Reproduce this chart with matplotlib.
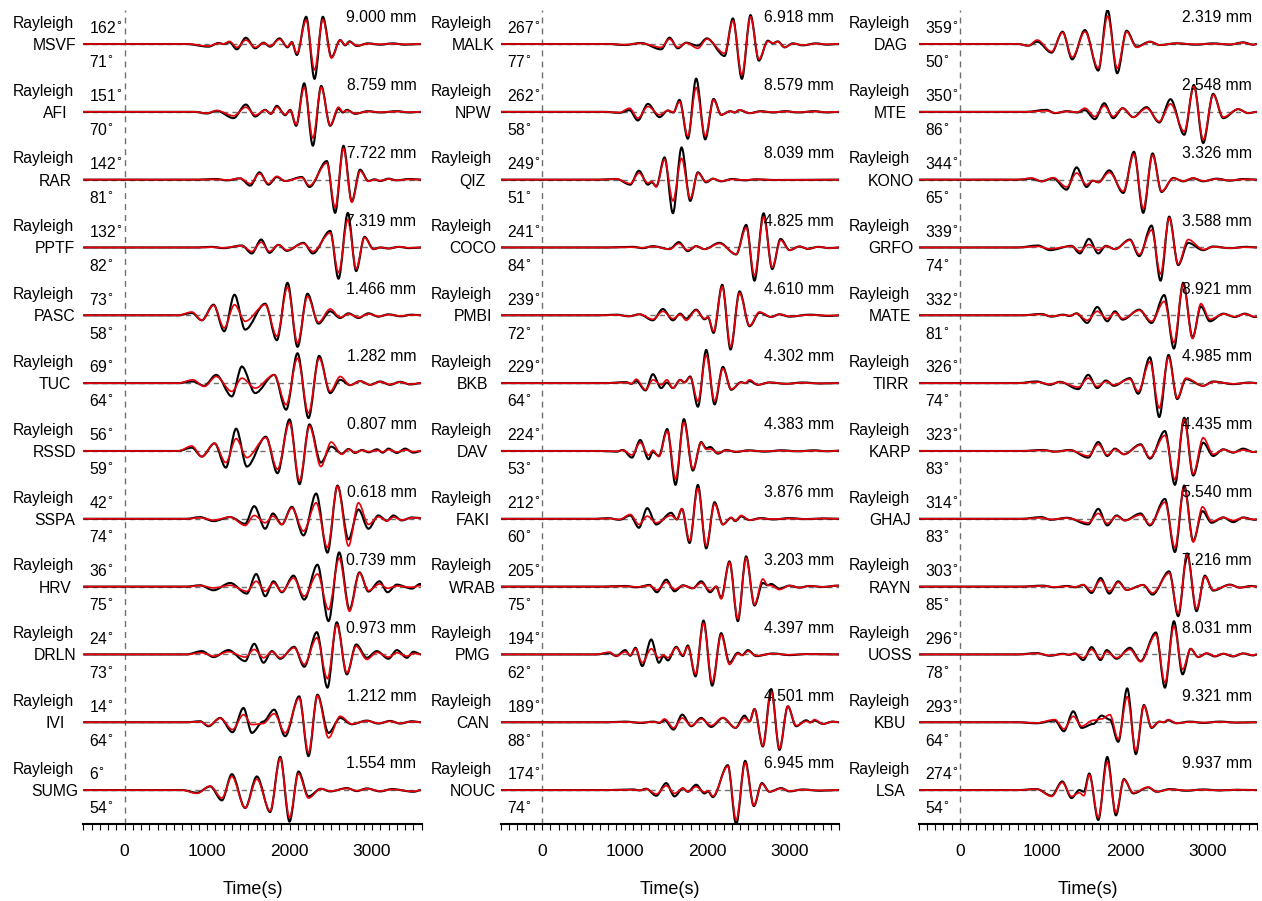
import matplotlib
matplotlib.use("Agg")
import matplotlib.pyplot as plt
from matplotlib.path import Path
from matplotlib.patches import PathPatch
import matplotlib.transforms as mtransforms
from matplotlib.ticker import MultipleLocator

# ---------------- data: (time s, observed, synthetic) extrema, normalised ----------------
MSVF = [(-500,0,0),(750,0,0),(1018,-0.08,-0.06),(1139,0.03,0.02),(1200,0.0,0.0),(1273,0.05,0.08),(1361,-0.16,-0.10),(1471,0.19,0.12),(1584,-0.13,-0.10),(1685,0.04,0.03),(1765,-0.08,-0.06),(1879,0.17,0.14),(1976,-0.10,-0.08),(2028,0.06,0.05),(2089,-0.33,-0.28),(2202,0.82,0.72),(2303,-1.05,-0.78),(2404,0.82,0.74),(2509,-0.40,-0.42),(2614,0.12,0.12),(2674,-0.04,-0.03),(2727,0.08,0.06),(2816,-0.06,-0.05),(2950,0.02,0.01),(3100,-0.02,-0.01),(3250,0.02,0.01),(3400,-0.02,-0.01),(3600,0,0)]
AFI = [(-500,0,0),(850,0,0),(998,-0.05,-0.04),(1119,0.03,0.04),(1321,-0.19,-0.12),(1471,0.22,0.14),(1584,-0.14,-0.10),(1705,0.06,0.05),(1774,-0.06,-0.05),(1846,0.18,0.14),(1947,-0.10,-0.08),(2008,0.06,0.05),(2081,-0.42,-0.38),(2178,0.86,0.74),(2283,-1.02,-0.79),(2384,0.78,0.74),(2493,-0.42,-0.40),(2594,0.10,0.14),(2646,-0.02,0.0),(2695,0.06,0.04),(2796,-0.06,-0.05),(2950,0.02,0.01),(3100,-0.02,-0.01),(3300,0.02,0.01),(3450,-0.02,-0.01),(3600,0,0)]
RAR = [(-500,0,0),(900,0,0),(1100,0.02,0.01),(1250,-0.02,-0.01),(1402,0.04,0.04),(1523,-0.18,-0.12),(1636,0.22,0.18),(1745,-0.15,-0.12),(1846,0.08,0.10),(1947,-0.04,-0.04),(2149,0.08,0.06),(2242,-0.22,-0.18),(2452,0.56,0.50),(2553,-1.0,-0.84),(2654,1.02,0.94),(2755,-0.65,-0.68),(2856,0.30,0.26),(2957,-0.04,-0.05),(3030,0.01,0.0),(3099,-0.04,-0.03),(3200,0.03,0.02),(3300,-0.02,-0.02),(3450,0.02,0.01),(3600,0,0)]
PPTF = [(-500,0,0),(900,0,0),(1050,0.02,0.01),(1200,-0.02,-0.01),(1422,0.06,0.05),(1543,-0.18,-0.12),(1656,0.24,0.16),(1757,-0.16,-0.12),(1866,0.08,0.08),(1967,-0.10,-0.08),(2169,0.14,0.12),(2283,-0.18,-0.12),(2493,0.50,0.44),(2594,-0.94,-0.76),(2707,1.04,0.84),(2808,-0.71,-0.64),(2909,0.32,0.30),(3018,-0.05,-0.05),(3100,0.0,0.0),(3200,-0.03,-0.03),(3330,0.02,0.02),(3450,-0.02,-0.01),(3600,0,0)]
PASC = [(-500,0,0),(650,0,0),(816,0.07,0.10),(937,-0.15,-0.15),(1079,0.32,0.30),(1208,-0.48,-0.38),(1333,0.62,0.32),(1462,-0.43,-0.18),(1705,0.35,0.32),(1846,-0.75,-0.63),(1976,0.98,0.85),(2097,-0.95,-0.83),(2218,0.65,0.57),(2351,-0.25,-0.21),(2493,0.12,0.19),(2614,-0.08,-0.06),(2715,0.06,0.04),(2836,-0.08,-0.06),(2957,0.06,0.04),(3078,-0.04,-0.03),(3200,0.03,0.02),(3350,-0.03,-0.02),(3480,0.02,0.01),(3600,0,0)]
TUC = [(-500,0,0),(650,0,0),(828,0.05,0.10),(966,-0.08,-0.10),(1111,0.25,0.20),(1301,-0.40,-0.25),(1422,0.50,0.15),(1584,-0.30,-0.15),(1814,0.25,0.25),(1959,-0.80,-0.65),(2097,0.90,0.75),(2230,-1.05,-0.90),(2359,0.82,0.75),(2493,-0.30,-0.25),(2614,0.10,0.20),(2735,-0.06,-0.06),(2856,0.06,0.06),(2977,-0.05,-0.05),(3099,0.05,0.04),(3220,-0.05,-0.04),(3341,0.04,0.03),(3462,-0.04,-0.03),(3600,0,0)]
RSSD = [(-500,0,0),(650,0,0),(816,0.10,0.15),(937,-0.17,-0.17),(1091,0.23,0.23),(1228,-0.50,-0.35),(1353,0.67,0.37),(1483,-0.47,-0.20),(1713,0.43,0.40),(1854,-0.67,-0.55),(2000,0.95,0.85),(2121,-1.0,-0.90),(2242,0.80,0.75),(2380,-0.35,-0.47),(2505,0.13,0.27),(2634,-0.08,-0.10),(2715,0.06,0.05),(2796,-0.06,-0.05),(2880,0.03,0.02),(2960,-0.04,-0.02),(3060,0.05,0.02),(3130,-0.05,-0.03),(3200,0.07,0.04),(3301,-0.06,-0.03),(3402,0.07,0.03),(3503,-0.05,-0.02),(3600,0,0)]
SSPA = [(-500,0,0),(750,0,0),(917,0.05,0.03),(1079,-0.07,-0.04),(1281,0.05,0.05),(1462,-0.15,-0.20),(1572,0.38,0.10),(1705,-0.30,-0.12),(1798,0.16,0.08),(1907,-0.17,-0.17),(2028,0.36,0.33),(2169,-0.50,-0.37),(2323,0.76,0.48),(2460,-1.02,-0.87),(2582,1.0,0.98),(2715,-0.62,-0.82),(2836,0.28,0.48),(2957,-0.30,-0.17),(3078,0.10,0.06),(3180,-0.06,-0.06),(3260,0.10,0.05),(3361,-0.05,-0.04),(3483,0.04,0.03),(3600,0.02,0.02)]
HRV = [(-500,0,0),(750,0,0),(917,0.04,0.03),(1079,-0.11,-0.04),(1281,0.11,0.04),(1483,-0.21,-0.14),(1596,0.38,0.16),(1705,-0.29,-0.14),(1806,0.16,0.11),(1907,-0.17,-0.15),(2048,0.33,0.26),(2178,-0.39,-0.29),(2339,0.66,0.38),(2473,-1.04,-0.69),(2602,1.03,0.86),(2727,-0.69,-0.74),(2848,0.43,0.41),(2957,-0.15,-0.12),(3091,0.16,0.08),(3188,-0.17,-0.05),(3301,0.06,0.02),(3483,-0.06,-0.02),(3584,0.08,0.03),(3600,0.08,0.03)]
DRLN = [(-500,0,0),(750,0,0),(937,0.10,0.05),(1079,-0.08,-0.05),(1260,0.13,0.08),(1462,-0.20,-0.08),(1572,0.32,0.15),(1685,-0.25,-0.10),(1786,0.10,0.08),(1887,-0.13,-0.10),(2056,0.23,0.20),(2178,-0.37,-0.30),(2331,0.67,0.50),(2460,-1.0,-0.73),(2573,0.97,0.90),(2695,-0.60,-0.55),(2808,0.30,0.25),(2937,-0.10,-0.15),(3058,0.10,0.06),(3200,-0.13,-0.08),(3301,0.13,0.05),(3422,-0.10,-0.05),(3503,0.08,0.03),(3600,0,0)]
IVI = [(-500,0,0),(750,0,0),(917,0.03,0.02),(1018,-0.12,-0.10),(1159,0.13,0.12),(1309,-0.30,-0.22),(1442,0.43,0.23),(1543,-0.32,-0.07),(1680,0.02,-0.04),(1814,0.38,0.26),(1947,-0.42,-0.32),(2117,0.78,0.73),(2230,-1.02,-0.92),(2339,0.83,0.80),(2473,-0.32,-0.47),(2614,0.13,0.18),(2755,-0.06,-0.05),(2937,0.05,0.04),(3078,-0.04,-0.03),(3220,0.04,0.03),(3341,-0.04,-0.03),(3483,0.03,0.02),(3600,0,0)]
SUMG = [(-500,0,0),(700,0,0),(877,-0.08,-0.10),(1038,0.11,0.12),(1180,-0.31,-0.24),(1301,0.48,0.41),(1462,-0.54,-0.54),(1604,0.41,0.33),(1765,-0.66,-0.63),(1887,1.0,0.96),(2000,-0.95,-0.83),(2109,0.56,0.50),(2230,-0.19,-0.24),(2380,0.04,0.04),(2493,-0.04,-0.03),(2695,0.06,0.05),(2816,-0.03,-0.02),(2937,0.05,0.04),(3099,-0.04,-0.03),(3240,0.03,0.02),(3503,-0.05,-0.04),(3600,0,0)]

MALK = [(-500,0,0),(800,0,0),(1000,-0.03,-0.02),(1200,0.03,0.02),(1442,-0.16,-0.10),(1543,0.19,0.15),(1644,-0.13,-0.10),(1745,0.04,0.03),(1887,-0.05,-0.13),(1996,0.17,0.15),(2210,-0.36,-0.28),(2311,0.77,0.70),(2420,-1.05,-0.93),(2525,0.87,0.82),(2626,-0.50,-0.46),(2735,0.10,0.08),(2796,0.02,0.03),(2856,0.08,0.07),(2937,-0.10,-0.10),(3038,0.02,0.01),(3159,-0.04,-0.03),(3321,0.02,0.01),(3450,-0.02,-0.01),(3600,0,0)]
NPW = [(-500,0,0),(750,0,0),(937,-0.03,-0.02),(1058,0.05,0.11),(1159,-0.26,-0.19),(1281,0.24,0.16),(1422,-0.16,-0.09),(1523,0.04,0.04),(1590,-0.02,-0.01),(1664,0.36,0.31),(1765,-0.81,-0.73),(1866,1.0,0.73),(1976,-0.83,-0.73),(2077,0.39,0.36),(2169,-0.09,-0.09),(2280,0.02,0.02),(2330,-0.02,-0.02),(2392,0.05,0.06),(2513,-0.04,-0.04),(2650,0.02,0.01),(2800,-0.02,-0.01),(2950,0.02,0.01),(3100,-0.02,-0.01),(3300,0.02,0.01),(3450,-0.02,-0.01),(3600,0,0)]
QIZ = [(-500,0,0),(700,0,0),(900,0.02,0.02),(1067,-0.15,-0.12),(1172,0.27,0.20),(1281,-0.15,-0.10),(1329,-0.08,-0.05),(1382,-0.20,-0.22),(1483,0.67,0.61),(1584,-1.01,-0.64),(1689,0.97,0.64),(1794,-0.64,-0.57),(1887,0.22,0.20),(1988,-0.08,-0.06),(2068,0.03,0.03),(2169,-0.05,-0.04),(2300,0.02,0.01),(2450,-0.02,-0.01),(2600,0.01,0.01),(2800,-0.01,-0.01),(3600,0,0)]
COCO = [(-500,0,0),(800,0,0),(1100,0.02,0.01),(1220,-0.02,-0.01),(1341,0.04,0.03),(1543,-0.05,-0.05),(1656,0.16,0.12),(1765,-0.11,-0.08),(1866,0.04,0.04),(1967,-0.05,-0.05),(2149,0.14,0.12),(2351,-0.21,-0.20),(2473,0.68,0.60),(2573,-1.0,-0.85),(2683,1.03,0.92),(2788,-0.65,-0.60),(2889,0.26,0.22),(2998,-0.08,-0.08),(3119,0.03,0.03),(3220,-0.04,-0.04),(3350,0.02,0.02),(3480,-0.02,-0.02),(3600,0,0)]
PMBI = [(-500,0,0),(700,0,0),(900,0.02,0.01),(1050,-0.03,-0.03),(1180,0.03,0.03),(1341,-0.15,-0.12),(1462,0.19,0.12),(1584,-0.15,-0.10),(1673,0.05,0.03),(1745,-0.10,-0.15),(1866,0.17,0.15),(1967,-0.12,-0.10),(2010,-0.06,-0.05),(2077,-0.53,-0.48),(2182,0.92,0.87),(2283,-1.03,-0.95),(2392,0.72,0.67),(2513,-0.33,-0.31),(2634,0.08,0.10),(2775,-0.05,-0.05),(2876,0.03,0.03),(2998,-0.04,-0.03),(3240,0.02,0.01),(3483,-0.02,-0.01),(3600,0,0)]
BKB = [(-500,0,0),(750,0,0),(1018,0.03,0.02),(1080,-0.02,-0.02),(1139,0.06,0.12),(1252,-0.22,-0.20),(1341,0.27,0.10),(1442,-0.15,-0.05),(1511,0.02,0.10),(1584,-0.15,-0.15),(1673,0.10,0.10),(1725,0.02,0.02),(1794,0.20,0.18),(1887,-0.71,-0.54),(1988,1.0,0.84),(2089,-0.64,-0.54),(2190,0.49,0.44),(2291,-0.20,-0.18),(2412,0.03,0.02),(2460,0.0,0.0),(2513,0.06,0.10),(2614,-0.05,-0.05),(2755,0.02,0.02),(2957,-0.02,-0.02),(3159,0.02,0.01),(3361,-0.01,-0.01),(3600,0,0)]
DAV = [(-500,0,0),(700,0,0),(900,-0.02,-0.01),(978,0.03,0.02),(1087,-0.20,-0.12),(1188,0.33,0.25),(1289,-0.25,-0.13),(1341,-0.03,0.02),(1414,-0.15,-0.17),(1515,0.66,0.60),(1616,-1.02,-0.84),(1717,0.96,0.86),(1826,-0.59,-0.54),(1927,0.27,0.25),(1988,0.08,0.05),(2036,0.12,0.06),(2129,-0.08,-0.06),(2230,0.03,0.02),(2350,-0.03,-0.02),(2500,0.02,0.01),(2700,-0.02,-0.01),(2900,0.02,0.01),(3100,-0.01,-0.01),(3300,0.02,0.01),(3450,-0.01,-0.01),(3600,0.01,0.01)]
FAKI = [(-500,0,0),(650,0,0),(800,0.02,0.01),(937,-0.03,-0.02),(1067,0.10,0.13),(1172,-0.27,-0.17),(1273,0.32,0.08),(1382,-0.17,-0.12),(1563,0.18,0.10),(1632,-0.02,-0.02),(1693,0.30,0.30),(1786,-0.73,-0.66),(1887,1.02,0.92),(1988,-0.89,-0.81),(2089,0.50,0.45),(2190,-0.17,-0.17),(2291,0.03,0.04),(2339,-0.07,-0.06),(2412,0.07,0.10),(2513,-0.04,-0.04),(2650,0.02,0.01),(2800,-0.02,-0.01),(3000,0.02,0.01),(3200,-0.01,-0.01),(3400,0.01,0.01),(3600,0,0)]
WRAB = [(-500,0,0),(750,0,0),(1000,0.02,0.01),(1150,-0.02,-0.01),(1301,0.05,0.03),(1390,-0.17,-0.10),(1503,0.21,0.13),(1604,-0.14,-0.08),(1705,0.04,0.03),(1826,-0.05,-0.05),(1927,0.16,0.11),(2036,-0.17,-0.12),(2109,0.0,0.01),(2169,-0.34,-0.37),(2270,0.76,0.73),(2371,-1.04,-0.97),(2472,0.91,0.86),(2573,-0.57,-0.54),(2674,0.11,0.23),(2735,0.04,0.04),(2775,0.08,0.03),(2876,-0.06,-0.09),(2998,0.03,0.03),(3119,-0.03,-0.03),(3240,0.02,0.02),(3400,-0.01,-0.01),(3583,0.03,0.03),(3600,0.03,0.03)]
PMG = [(-500,0,0),(650,0,0),(816,0.04,0.07),(897,-0.05,-0.05),(1006,0.13,0.08),(1067,-0.04,-0.02),(1131,0.20,0.17),(1212,-0.35,-0.25),(1321,0.45,0.17),(1414,-0.25,-0.10),(1471,-0.05,-0.02),(1523,-0.18,-0.10),(1624,0.23,0.20),(1705,-0.05,-0.02),(1765,0.27,0.23),(1858,-0.66,-0.59),(1955,1.02,0.94),(2060,-0.94,-0.84),(2169,0.64,0.59),(2270,-0.25,-0.30),(2371,0.05,0.03),(2424,-0.02,-0.03),(2493,0.13,0.10),(2594,-0.05,-0.04),(2796,0.03,0.02),(2998,-0.02,-0.01),(3200,0.01,0.01),(3600,0,0)]
CAN = [(-500,0,0),(800,0,0),(1000,0.02,0.01),(1200,-0.02,-0.01),(1350,0.02,0.01),(1420,-0.02,-0.01),(1483,0.06,0.10),(1592,-0.22,-0.17),(1697,0.23,0.13),(1806,-0.12,-0.10),(1927,0.13,0.10),(2048,-0.14,-0.10),(2190,0.13,0.14),(2343,-0.17,-0.17),(2452,0.20,0.13),(2513,0.02,0.02),(2573,0.40,0.40),(2674,-0.73,-0.71),(2776,1.0,0.92),(2876,-0.83,-0.79),(2977,0.48,0.48),(3078,-0.12,-0.10),(3200,0.06,0.03),(3250,0.0,-0.01),(3301,0.05,0.08),(3402,-0.05,-0.05),(3523,0.02,0.02),(3600,0,0)]
NOUC = [(-500,0,0),(800,0,0),(1100,0.02,0.01),(1180,-0.01,-0.01),(1260,0.04,0.03),(1382,-0.17,-0.12),(1503,0.21,0.13),(1604,-0.19,-0.10),(1705,0.05,0.06),(1765,-0.05,-0.05),(1866,0.16,0.10),(1967,-0.10,-0.06),(2010,-0.04,-0.02),(2068,-0.21,-0.18),(2250,0.75,0.72),(2351,-1.03,-0.90),(2460,0.88,0.82),(2565,-0.48,-0.46),(2662,0.21,0.19),(2755,-0.05,-0.05),(2897,0.06,0.05),(2998,-0.04,-0.03),(3159,0.02,0.01),(3361,-0.02,-0.01),(3600,0,0)]

DAG = [(-500,0,0),(700,0,0),(828,-0.05,-0.05),(937,0.07,0.12),(1111,-0.26,-0.23),(1244,0.37,0.35),(1361,-0.46,-0.40),(1515,0.42,0.37),(1677,-0.80,-0.73),(1790,1.02,0.84),(1907,-0.88,-0.73),(2020,0.40,0.37),(2141,-0.08,-0.10),(2303,0.07,0.07),(2424,-0.03,-0.03),(2626,0.02,0.02),(2868,-0.02,-0.01),(3070,0.02,0.01),(3272,-0.02,-0.01),(3434,0.05,0.04),(3555,-0.02,-0.02),(3600,0,0)]
MTE = [(-500,0,0),(800,0,0),(1050,0.06,0.03),(1151,-0.04,-0.03),(1300,0.02,0.01),(1420,-0.02,-0.01),(1515,0.05,0.11),(1636,-0.22,-0.14),(1749,0.26,0.18),(1858,-0.19,-0.14),(1972,0.11,0.11),(2101,-0.16,-0.16),(2262,0.14,0.11),(2416,-0.32,-0.29),(2553,0.38,0.24),(2719,-0.69,-0.59),(2836,0.81,0.76),(2949,-0.94,-0.84),(3070,0.54,0.51),(3192,-0.19,-0.16),(3373,0.08,0.08),(3495,-0.04,-0.04),(3600,0,0)]
KONO = [(-500,0,0),(700,0,0),(869,0.03,0.05),(990,-0.05,-0.05),(1131,0.04,0.06),(1293,-0.30,-0.22),(1414,0.37,0.20),(1535,-0.22,-0.15),(1610,-0.03,-0.03),(1680,-0.08,-0.08),(1810,0.28,0.22),(1980,-0.40,-0.35),(2109,0.84,0.77),(2222,-1.0,-0.87),(2335,0.79,0.74),(2444,-0.37,-0.35),(2586,0.05,0.04),(2707,-0.05,-0.04),(2828,0.04,0.05),(2949,-0.05,-0.04),(3111,0.03,0.02),(3272,-0.03,-0.02),(3434,0.02,0.01),(3600,0,0)]
GRFO = [(-500,0,0),(700,0,0),(949,0.06,0.03),(1091,-0.08,-0.04),(1353,0.05,0.04),(1454,-0.18,-0.11),(1563,0.26,0.09),(1677,-0.18,-0.08),(1770,0.05,0.04),(1879,-0.05,-0.05),(2060,0.24,0.22),(2174,-0.26,-0.21),(2323,0.66,0.53),(2432,-1.0,-0.80),(2537,0.93,0.89),(2646,-0.53,-0.50),(2767,0.14,0.24),(2949,-0.08,-0.06),(3070,0.03,0.02),(3272,-0.02,-0.02),(3474,0.02,0.01),(3600,0,0)]
MATE = [(-500,0,0),(750,0,0),(990,0.04,0.03),(1111,-0.04,-0.03),(1250,0.02,0.01),(1330,-0.02,-0.01),(1414,0.06,0.05),(1543,-0.23,-0.15),(1664,0.25,0.12),(1786,-0.18,-0.10),(1879,0.12,0.08),(1972,-0.13,-0.10),(2174,0.17,0.15),(2323,-0.23,-0.18),(2477,0.61,0.42),(2594,-1.0,-0.82),(2707,0.98,0.94),(2820,-0.67,-0.70),(2921,0.27,0.35),(3030,-0.18,-0.12),(3192,0.05,0.04),(3333,-0.05,-0.04),(3454,0.05,0.04),(3575,-0.05,-0.04),(3600,-0.05,-0.04)]
TIRR = [(-500,0,0),(700,0,0),(929,0.05,0.03),(1091,-0.05,-0.03),(1212,0.04,0.03),(1434,-0.18,-0.12),(1555,0.25,0.15),(1664,-0.15,-0.10),(1770,0.08,0.05),(1866,-0.08,-0.05),(2060,0.15,0.12),(2161,-0.32,-0.25),(2303,0.78,0.65),(2416,-1.02,-0.75),(2529,0.85,0.78),(2634,-0.48,-0.45),(2739,0.12,0.15),(2949,-0.08,-0.08),(3070,0.05,0.04),(3313,-0.03,-0.02),(3515,0.02,0.01),(3600,0,0)]
KARP = [(-500,0,0),(750,0,0),(1010,0.03,0.02),(1150,-0.02,-0.02),(1333,0.03,0.02),(1555,-0.20,-0.15),(1677,0.27,0.20),(1786,-0.15,-0.12),(1879,0.07,0.05),(1988,-0.10,-0.10),(2190,0.20,0.18),(2303,-0.23,-0.20),(2485,0.60,0.47),(2606,-1.02,-0.86),(2719,1.0,0.95),(2828,-0.74,-0.69),(2949,0.25,0.40),(3070,-0.15,-0.10),(3192,0.05,0.04),(3313,-0.05,-0.04),(3434,0.07,0.03),(3555,-0.03,-0.03),(3600,-0.02,-0.02)]
GHAJ = [(-500,0,0),(750,0,0),(990,0.05,0.03),(1100,-0.03,-0.02),(1300,0.03,0.02),(1555,-0.17,-0.12),(1677,0.30,0.16),(1786,-0.20,-0.14),(1899,0.10,0.08),(2000,-0.05,-0.05),(2190,0.16,0.12),(2303,-0.20,-0.17),(2485,0.60,0.50),(2606,-1.0,-0.87),(2719,1.0,0.95),(2828,-0.67,-0.70),(2941,0.23,0.36),(3050,-0.12,-0.08),(3192,0.04,0.04),(3313,-0.10,-0.05),(3434,0.04,0.03),(3575,-0.03,-0.02),(3600,-0.02,-0.01)]
RAYN = [(-500,0,0),(750,0,0),(1000,0.03,0.02),(1150,-0.02,-0.01),(1300,0.02,0.01),(1400,-0.02,-0.01),(1495,0.05,0.06),(1596,-0.19,-0.14),(1705,0.26,0.19),(1810,-0.21,-0.14),(1919,0.16,0.13),(2020,-0.10,-0.10),(2222,0.05,0.05),(2335,-0.24,-0.19),(2537,0.46,0.41),(2646,-0.89,-0.81),(2755,1.0,0.96),(2868,-0.74,-0.67),(2969,0.33,0.30),(3070,-0.12,-0.10),(3272,0.06,0.05),(3394,-0.03,-0.03),(3535,0.02,0.01),(3600,0,0)]
UOSS = [(-500,0,0),(700,0,0),(929,0.04,0.03),(1091,-0.04,-0.03),(1250,0.02,0.01),(1320,-0.01,-0.01),(1394,0.03,0.02),(1495,-0.17,-0.10),(1596,0.22,0.15),(1705,-0.17,-0.12),(1778,0.13,0.08),(1899,-0.13,-0.10),(2060,0.20,0.15),(2190,-0.20,-0.22),(2376,0.66,0.60),(2485,-1.0,-0.85),(2594,1.0,0.85),(2699,-0.60,-0.45),(2796,0.17,0.17),(2889,-0.08,-0.08),(2990,0.03,0.04),(3091,-0.06,-0.05),(3192,0.02,0.02),(3313,-0.06,-0.05),(3434,0.03,0.03),(3555,-0.03,-0.02),(3600,0,0)]
KBU = [(-500,0,0),(700,0,0),(929,-0.03,-0.02),(1151,0.05,0.08),(1260,-0.27,-0.20),(1374,0.33,0.18),(1475,-0.17,-0.12),(1616,-0.05,0.06),(1717,0.20,0.10),(1818,0.08,0.23),(1919,-0.59,-0.51),(2028,1.02,0.77),(2133,-0.96,-0.86),(2230,0.52,0.50),(2323,-0.17,-0.15),(2420,0.02,0.02),(2470,0.0,0.0),(2525,0.06,0.08),(2626,-0.03,-0.03),(2788,0.02,0.01),(2949,-0.02,-0.01),(3151,0.02,0.01),(3353,-0.01,-0.01),(3600,0,0)]
LSA = [(-500,0,0),(700,0,0),(929,0.03,0.03),(1111,-0.17,-0.19),(1240,0.26,0.23),(1353,-0.24,-0.19),(1446,0.0,-0.08),(1503,-0.05,-0.17),(1568,0.50,0.46),(1677,-0.90,-0.83),(1786,1.0,0.85),(1891,-0.76,-0.68),(1988,0.33,0.31),(2101,-0.10,-0.08),(2283,0.08,0.09),(2384,-0.05,-0.05),(2545,0.03,0.02),(2747,-0.02,-0.01),(2949,0.02,0.01),(3151,-0.01,-0.01),(3353,0.01,0.01),(3600,0,0)]

# ---------------- labels ----------------
COL1_STATIONS = ["MSVF", "AFI", "RAR", "PPTF", "PASC", "TUC", "RSSD", "SSPA", "HRV", "DRLN", "IVI", "SUMG"]
COL1_AZ = [162, 151, 142, 132, 73, 69, 56, 42, 36, 24, 14, 6]
COL1_DIST = [71, 70, 81, 82, 58, 64, 59, 74, 75, 73, 64, 54]
COL1_AMP = ["9.000", "8.759", "7.722", "7.319", "1.466", "1.282", "0.807", "0.618", "0.739", "0.973", "1.212", "1.554"]

COL2_STATIONS = ["MALK", "NPW", "QIZ", "COCO", "PMBI", "BKB", "DAV", "FAKI", "WRAB", "PMG", "CAN", "NOUC"]
COL2_AZ = [267, 262, 249, 241, 239, 229, 224, 212, 205, 194, 189, 174]
COL2_DIST = [77, 58, 51, 84, 72, 64, 53, 60, 75, 62, 88, 74]
COL2_AMP = ["6.918", "8.579", "8.039", "4.825", "4.610", "4.302", "4.383", "3.876", "3.203", "4.397", "4.501", "6.945"]

COL3_STATIONS = ["DAG", "MTE", "KONO", "GRFO", "MATE", "TIRR", "KARP", "GHAJ", "RAYN", "UOSS", "KBU", "LSA"]
COL3_AZ = [359, 350, 344, 339, 332, 326, 323, 314, 303, 296, 293, 274]
COL3_DIST = [50, 86, 65, 74, 81, 74, 83, 83, 85, 78, 64, 54]
COL3_AMP = ["2.319", "2.548", "3.326", "3.588", "8.921", "4.985", "4.435", "5.540", "7.216", "8.031", "9.321", "9.937"]

WAVES = {
    "MSVF": MSVF, "AFI": AFI, "RAR": RAR, "PPTF": PPTF, "PASC": PASC, "TUC": TUC,
    "RSSD": RSSD, "SSPA": SSPA, "HRV": HRV, "DRLN": DRLN, "IVI": IVI, "SUMG": SUMG,
    "MALK": MALK, "NPW": NPW, "QIZ": QIZ, "COCO": COCO, "PMBI": PMBI, "BKB": BKB,
    "DAV": DAV, "FAKI": FAKI, "WRAB": WRAB, "PMG": PMG, "CAN": CAN, "NOUC": NOUC,
    "DAG": DAG, "MTE": MTE, "KONO": KONO, "GRFO": GRFO, "MATE": MATE, "TIRR": TIRR,
    "KARP": KARP, "GHAJ": GHAJ, "RAYN": RAYN, "UOSS": UOSS, "KBU": KBU, "LSA": LSA,
}

COLUMNS = [
    (COL1_STATIONS, COL1_AZ, COL1_DIST, COL1_AMP),
    (COL2_STATIONS, COL2_AZ, COL2_DIST, COL2_AMP),
    (COL3_STATIONS, COL3_AZ, COL3_DIST, COL3_AMP),
]

# ---------------- style ----------------
plt.rcParams['font.family'] = ['Liberation Sans', 'DejaVu Sans']
AMP_SCALE = 0.49
FS = 11.3

W, H = 1262, 901
fig = plt.figure(figsize=(W / 100, H / 100), dpi=100)
fig.patch.set_facecolor('white')

AX_LEFT_PX = [83.3, 501.0, 918.7]
AX_W_PX = 338.2
AX_BOTTOM_PX = 824.0
AX_TOP_PX = 10.1


def wave_path(samples, idx, y0):
    ts = [s[0] for s in samples]
    ys = [y0 + AMP_SCALE * s[idx] for s in samples]
    verts = [(ts[0], ys[0])]
    codes = [Path.MOVETO]
    for i in range(1, len(ts)):
        t0, t1 = ts[i - 1], ts[i]
        a0, a1 = ys[i - 1], ys[i]
        dt = t1 - t0
        verts += [(t0 + dt / 3.0, a0), (t1 - dt / 3.0, a1), (t1, a1)]
        codes += [Path.CURVE4] * 3
    return Path(verts, codes)


def deg(v):
    return f"{v}" + r"$^{\circ}$"


for c, (stations, azs, dists, amps) in enumerate(COLUMNS):
    ax = fig.add_axes([AX_LEFT_PX[c] / W, (H - AX_BOTTOM_PX) / H,
                       AX_W_PX / W, (AX_BOTTOM_PX - AX_TOP_PX) / H])
    ax.set_xlim(-500, 3600)
    ax.set_ylim(-len(stations) + 0.5, 0.5)
    ax.set_facecolor('none')
    for side in ('top', 'left', 'right'):
        ax.spines[side].set_visible(False)
    ax.spines['bottom'].set_linewidth(1.5)
    ax.set_yticks([])
    ax.xaxis.set_major_locator(MultipleLocator(1000))
    ax.xaxis.set_minor_locator(MultipleLocator(100))
    ax.tick_params(axis='x', which='both', direction='out', length=4.5, width=0.8)
    ax.tick_params(axis='x', which='major', labelsize=12.5, pad=10)
    ax.set_xlabel("Time(s)", fontsize=13, labelpad=16)

    ax.axvline(0, color='#707070', lw=1.0, ls=(0, (4.3, 3.6)), zorder=1)

    trans = mtransforms.blended_transform_factory(ax.transAxes, ax.transData)
    for k, st in enumerate(stations):
        y0 = -k
        ax.axhline(y0, color='#707070', lw=1.0, ls=(0, (3.8, 2.9)), zorder=1)
        samples = WAVES[st]
        ax.add_patch(PathPatch(wave_path(samples, 1, y0), fill=False, edgecolor='black',
                               lw=1.5, joinstyle='round', zorder=2))
        ax.add_patch(PathPatch(wave_path(samples, 2, y0), fill=False, edgecolor='#e8000b',
                               lw=1.2, joinstyle='round', zorder=3))

        ax.text(-0.2079, y0 + 0.24, "Rayleigh", transform=trans, ha='left', va='baseline',
                fontsize=FS, clip_on=False)
        ax.text(-0.0837, y0 - 0.088, st, transform=trans, ha='center', va='baseline',
                fontsize=FS, clip_on=False)
        ax.text(0.0177, y0 + 0.158, deg(azs[k]), transform=trans, ha='left', va='baseline',
                fontsize=FS)
        ax.text(0.0177, y0 - 0.344, deg(dists[k]), transform=trans, ha='left', va='baseline',
                fontsize=FS)
        ax.text(0.985, y0 + 0.32, f"{amps[k]} mm", transform=trans, ha='right', va='baseline',
                fontsize=FS)

fig.savefig("out.png", dpi=100)
